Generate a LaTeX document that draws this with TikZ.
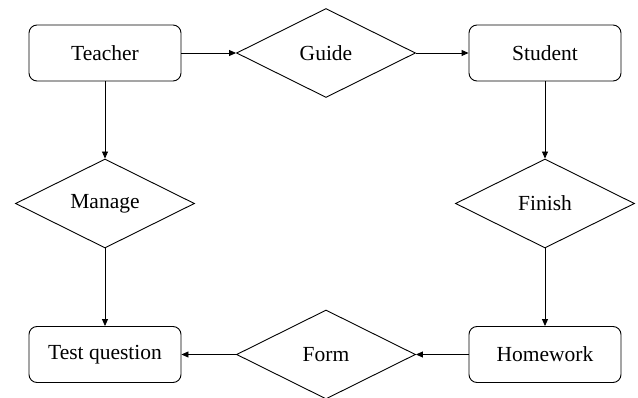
\documentclass[tikz,border=0pt]{standalone}
\usepackage{fontspec}
\setmainfont{Liberation Serif}
\usetikzlibrary{shapes.geometric,arrows.meta}
\begin{document}
\begin{tikzpicture}[x=1pt,y=-1pt,
  entity/.style={draw, line width=0.9pt, rounded corners=8pt, minimum width=152pt, minimum height=56pt, inner sep=0pt, font=\fontsize{21.5}{25}\selectfont},
  relation/.style={draw, line width=0.9pt, diamond, aspect=2, minimum width=179pt, minimum height=89pt, inner sep=0pt, font=\fontsize{21.5}{25}\selectfont},
  link/.style={line width=0.9pt, -{Triangle[length=7pt,width=6pt]}}]
\useasboundingbox (0,0) rectangle (638,398);
\node[entity] (teacher) at (105,53) {Teacher};
\node[relation] (guide) at (326,53) {Guide};
\node[entity] (student) at (545,53) {Student};
\node[relation] (manage) at (105,203.5) {Manage};
\node[relation] (finish) at (545,203.5) {Finish};
\node[entity] (test) at (105,354.5) {Test question};
\node[relation] (form) at (326,354.5) {Form};
\node[entity] (homework) at (545,354.5) {Homework};
\draw[link] (teacher) -- (guide);
\draw[link] (guide) -- (student);
\draw[link] (teacher) -- (manage);
\draw[link] (manage) -- (test);
\draw[link] (student) -- (finish);
\draw[link] (finish) -- (homework);
\draw[link] (homework) -- (form);
\draw[link] (form) -- (test);
\end{tikzpicture}
\end{document}
